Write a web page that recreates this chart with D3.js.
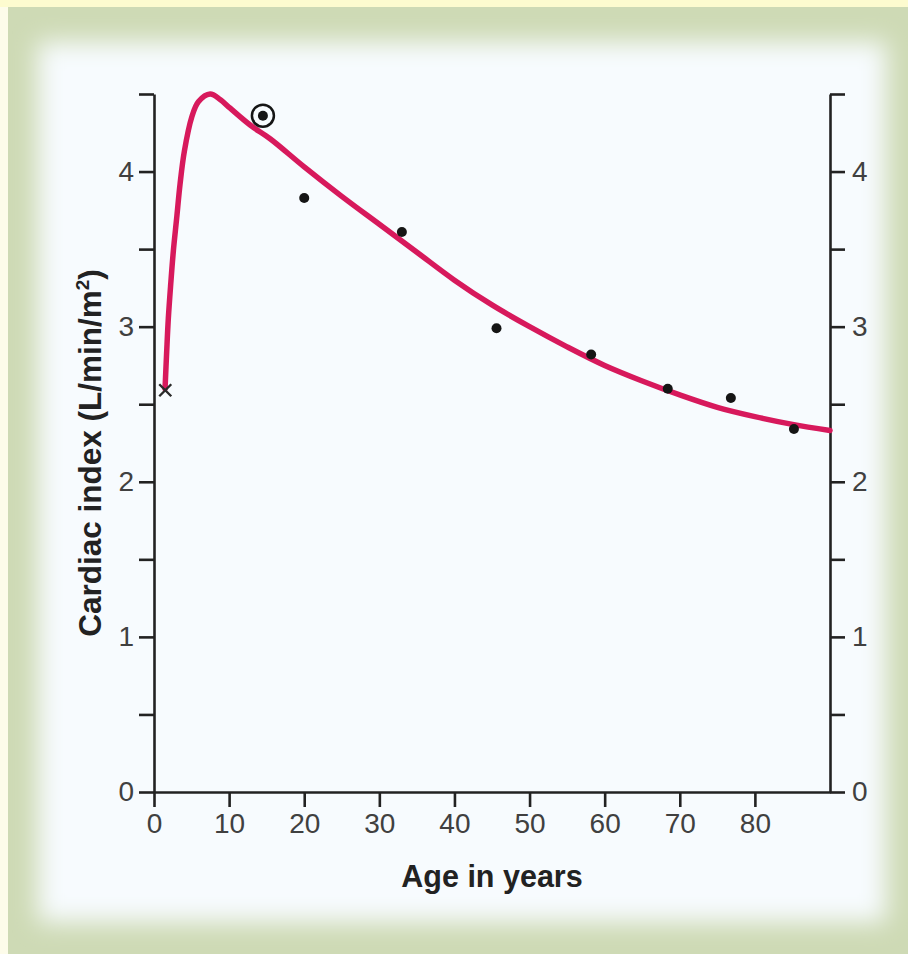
<!DOCTYPE html>
<html>
<head>
<meta charset="utf-8">
<script src="https://cdn.jsdelivr.net/npm/d3@7"></script>
<style>
  html, body { margin: 0; padding: 0; background: #fdfcea; }
  svg { display: block; font-family: "Liberation Sans", Arial, Helvetica, sans-serif; }
</style>
</head>
<body>
<script>
// fitted curve (age in years, cardiac index)
var curveAge   = [1.47, 1.69, 1.91, 2.22, 2.58, 3.02, 3.47, 4.04, 5.02, 5.91, 7.47, 8.8, 10.1, 12.8, 15.5, 20, 25, 30, 35, 40, 45, 50, 55, 60, 65, 70, 75, 80, 85, 90];
var curveIndex = [2.6, 2.84, 3.055, 3.27, 3.49, 3.7, 3.92, 4.13, 4.35, 4.45, 4.5, 4.465, 4.41, 4.3, 4.21, 4.03, 3.84, 3.66, 3.48, 3.3, 3.14, 3.0, 2.87, 2.75, 2.65, 2.56, 2.48, 2.42, 2.37, 2.33];

// measured points
var dotAge   = [20, 33, 45.6, 58.2, 68.4, 76.8, 85.2];
var dotIndex = [3.83, 3.61, 2.99, 2.82, 2.6, 2.54, 2.34];

// special markers
var circledPoint = [14.5, 4.36];
var crossPoint = [1.5, 2.59];

var xTicks = [0, 10, 20, 30, 40, 50, 60, 70, 80];
var yTicks = [0, 0.5, 1, 1.5, 2, 2.5, 3, 3.5, 4, 4.5];

var W = 908, H = 954;
var svg = d3.select("body").append("svg")
    .attr("width", W)
    .attr("height", H);

// background frame
var defs = svg.append("defs");
defs.append("filter")
    .attr("id", "soft")
    .attr("x", "-10%").attr("y", "-10%")
    .attr("width", "120%").attr("height", "120%")
    .append("feGaussianBlur")
    .attr("stdDeviation", 12);

svg.append("rect").attr("x", 0).attr("y", 0).attr("width", W).attr("height", 7).attr("fill", "#fdfbcf");
svg.append("rect").attr("x", 8).attr("y", 7).attr("width", W - 8).attr("height", H - 7).attr("fill", "#cedab5");
svg.append("rect")
    .attr("x", 38).attr("y", 42)
    .attr("width", 848).attr("height", 880)
    .attr("fill", "#f7fbfe")
    .attr("filter", "url(#soft)");

var x = d3.scaleLinear().domain([0, 90]).range([154, 830]);
var y = d3.scaleLinear().domain([0, 4.5]).range([792, 94]);

var axisColor = "#222";

function styleAxis(g) {
    g.selectAll("path.domain").attr("stroke", axisColor).attr("stroke-width", 2.6);
    g.selectAll(".tick line").attr("stroke", axisColor).attr("stroke-width", 2.6);
    g.selectAll(".tick text")
        .attr("fill", "#404040")
        .style("font-size", "28px");
}

// left axis
var gLeft = svg.append("g")
    .attr("transform", "translate(" + x(0) + ",0)")
    .call(d3.axisLeft(y)
        .tickValues(yTicks)
        .tickSize(15)
        .tickSizeOuter(0)
        .tickPadding(5)
        .tickFormat(function (d) { return d % 1 === 0 ? d : ""; }));
styleAxis(gLeft);

// right axis
var gRight = svg.append("g")
    .attr("transform", "translate(" + x(90) + ",0)")
    .call(d3.axisRight(y)
        .tickValues(yTicks)
        .tickSize(15)
        .tickSizeOuter(0)
        .tickPadding(7)
        .tickFormat(function (d) { return d % 1 === 0 ? d : ""; }));
styleAxis(gRight);

// bottom axis
var gBottom = svg.append("g")
    .attr("transform", "translate(0," + y(0) + ")")
    .call(d3.axisBottom(x)
        .tickValues(xTicks)
        .tickSize(15)
        .tickSizeOuter(0)
        .tickPadding(6));
styleAxis(gBottom);

// axis titles
svg.append("text")
    .attr("x", 492)
    .attr("y", 887)
    .attr("text-anchor", "middle")
    .attr("fill", "#222")
    .style("font-size", "30.5px")
    .style("font-weight", "bold")
    .text("Age in years");

var yTitle = svg.append("text")
    .attr("transform", "translate(101,453) rotate(-90)")
    .attr("text-anchor", "middle")
    .attr("fill", "#222")
    .style("font-size", "31.5px")
    .style("font-weight", "bold");
yTitle.append("tspan").text("Cardiac index (L/min/m");
yTitle.append("tspan").attr("dy", -12).style("font-size", "19px").text("2");
yTitle.append("tspan").attr("dy", 12).text(")");

// curve
var line = d3.line()
    .x(function (d) { return x(d[0]); })
    .y(function (d) { return y(d[1]); })
    .curve(d3.curveCatmullRom.alpha(0.5));

svg.append("path")
    .datum(d3.zip(curveAge, curveIndex))
    .attr("d", line)
    .attr("fill", "none")
    .attr("stroke", "#d7195c")
    .attr("stroke-width", 5.5)
    .attr("stroke-linecap", "round")
    .attr("stroke-linejoin", "round");

// dots
svg.selectAll("circle.dot")
    .data(d3.zip(dotAge, dotIndex))
    .enter()
    .append("circle")
    .attr("class", "dot")
    .attr("cx", function (d) { return x(d[0]); })
    .attr("cy", function (d) { return y(d[1]); })
    .attr("r", 5)
    .attr("fill", "#151515");

// circled point
svg.append("circle")
    .attr("cx", x(circledPoint[0]))
    .attr("cy", y(circledPoint[1]))
    .attr("r", 11)
    .attr("fill", "none")
    .attr("stroke", "#151515")
    .attr("stroke-width", 2.5);
svg.append("circle")
    .attr("cx", x(circledPoint[0]))
    .attr("cy", y(circledPoint[1]))
    .attr("r", 5)
    .attr("fill", "#151515");

// cross marker
var cx = x(crossPoint[0]), cy = y(crossPoint[1]);
svg.append("path")
    .attr("d", "M" + (cx - 6) + "," + (cy - 6) + "L" + (cx + 6) + "," + (cy + 6) +
               "M" + (cx - 6) + "," + (cy + 6) + "L" + (cx + 6) + "," + (cy - 6))
    .attr("stroke", "#2a2a2a")
    .attr("stroke-width", 2.4);
</script>
</body>
</html>
